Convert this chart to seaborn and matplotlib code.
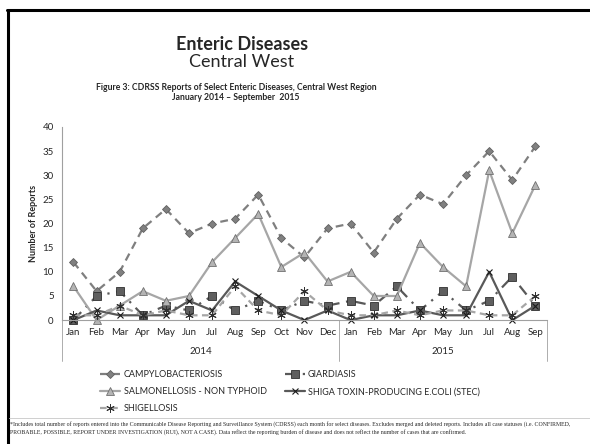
import matplotlib
matplotlib.use('Agg')
import matplotlib.pyplot as plt
import matplotlib.transforms as mtransforms
from matplotlib.lines import Line2D
import numpy as np
import seaborn as sns

## monthly CDRSS enteric disease reports, Central West, Jan 2014 - Sep 2015

months = ['Jan', 'Feb', 'Mar', 'Apr', 'May', 'Jun', 'Jul', 'Aug', 'Sep', 'Oct', 'Nov', 'Dec',
          'Jan', 'Feb', 'Mar', 'Apr', 'May', 'Jun', 'Jul', 'Aug', 'Sep']
years = ['2014', '2015']
year_months = [12, 9]

campylobacteriosis = [12, 6, 10, 19, 23, 18, 20, 21, 26, 17, 13, 19,
                      20, 14, 21, 26, 24, 30, 35, 29, 36]
giardiasis = [0, 5, 6, 1, 3, 2, 5, 2, 4, 2, 4, 3,
              4, 3, 7, 2, 6, 2, 4, 9, 3]
salmonellosis = [7, 0, 3, 6, 4, 5, 12, 17, 22, 11, 14, 8,
                 10, 5, 5, 16, 11, 7, 31, 18, 28]
stec = [0, 2, 1, 1, 1, 4, 2, 8, 5, 2, 0, 2,
        0, 1, 1, 2, 1, 1, 10, 0, 3]
shigellosis = [1, 1, 3, 1, 2, 1, 1, 7, 2, 1, 6, 2,
               1, 1, 2, 1, 2, 2, 1, 1, 5]

labels = ['CAMPYLOBACTERIOSIS', 'GIARDIASIS', 'SALMONELLOSIS - NON TYPHOID',
          'SHIGA TOXIN-PRODUCING E.COLI (STEC)', 'SHIGELLOSIS']

sns.set_style('white')
plt.rcParams['font.family'] = ['Lato', 'DejaVu Sans']

fig = plt.figure(figsize=(5.9, 4.44), dpi=100)
ax = fig.add_axes([0.105, 0.279, 0.822, 0.435])

X = np.arange(len(months))

styles = [
    (campylobacteriosis, dict(color='#7f7f7f', linestyle=(0, (3.5, 2.5)), marker='D', markersize=4,
                              markerfacecolor='#808080', markeredgecolor='#606060', markeredgewidth=0.6)),
    (giardiasis, dict(color='#595959', linestyle=(0, (5, 3, 1, 3)), marker='s', markersize=6,
                      markerfacecolor='#5f5f5f', markeredgecolor='#303030', markeredgewidth=0.6)),
    (salmonellosis, dict(color='#a6a6a6', linestyle='-', marker='^', markersize=6,
                         markerfacecolor='#b4b4b4', markeredgecolor='#707070', markeredgewidth=0.6)),
    (stec, dict(color='#595959', linestyle='-', marker='x', markersize=5,
                markerfacecolor='none', markeredgecolor='#1a1a1a', markeredgewidth=0.8)),
    (shigellosis, dict(color='#a6a6a6', linestyle=(0, (3, 2)), marker=(6, 2, 0), markersize=6,
                       markerfacecolor='none', markeredgecolor='#303030', markeredgewidth=0.7)),
]

handles = []
for (vals, kw), lab in zip(styles, labels):
    sns.lineplot(x=X, y=vals, ax=ax, linewidth=1.6, clip_on=False, **kw)
    handles.append(Line2D([], [], linewidth=1.6, label=lab, **kw))

ax.set_xlim(-0.5, len(months) - 0.5)
ax.set_ylim(0, 40)
ax.set_yticks(np.arange(0, 41, 5))
ax.set_xticks(X)
ax.set_xticklabels(months, fontsize=7)
ax.set_xticks(np.arange(-0.5, len(months), 1), minor=True)
ax.tick_params(axis='x', which='major', length=0, pad=6)
ax.tick_params(axis='x', which='minor', length=18, width=0.6, color='#a0a0a0', direction='out')
ax.tick_params(axis='y', which='major', length=3, width=0.6, color='#a0a0a0', direction='out',
               labelsize=7, pad=3)
ax.grid(False)
for s in ['top', 'right']:
    ax.spines[s].set_visible(False)
for s in ['left', 'bottom']:
    ax.spines[s].set_color('#a0a0a0')
    ax.spines[s].set_linewidth(0.8)
ax.set_xlabel('')
ax.set_ylabel('Number of Reports', fontsize=6.5, fontweight='bold', labelpad=3)

# year group separators and labels
trans = mtransforms.blended_transform_factory(ax.transData, ax.transAxes)
edges = np.concatenate([[0], np.cumsum(year_months)]) - 0.5
for e in edges:
    ax.plot([e, e], [0, -0.21], transform=trans, color='#a0a0a0', linewidth=0.6, clip_on=False)
for i, yr in enumerate(years):
    ax.text((edges[i] + edges[i + 1]) / 2, -0.16, yr, transform=trans,
            ha='center', va='center', fontsize=7)

# headings
fig.text(0.41, 1 - 44 / 444, 'Enteric Diseases', ha='center', va='center', fontsize=13, fontweight='bold')
fig.text(0.41, 1 - 62 / 444, 'Central West', ha='center', va='center', fontsize=13)
fig.text(0.40, 1 - 87 / 444, 'Figure 3: CDRSS Reports of Select Enteric Diseases, Central West Region',
         ha='center', va='center', fontsize=6.2, fontweight='bold')
fig.text(0.40, 1 - 98 / 444, 'January 2014 \u2013 September  2015',
         ha='center', va='center', fontsize=6.2, fontweight='bold')

order = [handles[0], handles[2], handles[4], handles[1], handles[3]]
fig.legend(handles=order, labels=[h.get_label() for h in order], ncol=2, frameon=False,
           loc='upper left', bbox_to_anchor=(92 / 590, 1 - 362 / 444), fontsize=6.5,
           handlelength=2.2, columnspacing=2.0, labelspacing=0.9, handletextpad=0.4)

# slide frame and footnote
fig.add_artist(Line2D([8 / 590, 8 / 590], [0, 1 - 10 / 444], color='black', linewidth=2.2,
                      transform=fig.transFigure))
fig.add_artist(Line2D([7 / 590, 1], [1 - 10 / 444, 1 - 10 / 444], color='black', linewidth=2.2,
                      transform=fig.transFigure))
fig.add_artist(Line2D([9 / 590, 1], [1 - 418 / 444, 1 - 418 / 444], color='#c8c8c8', linewidth=0.6,
                      transform=fig.transFigure))
note = ('*Includes total number of reports entered into the Communicable Disease Reporting and Surveillance '
        'System (CDRSS) each month for select diseases. Excludes merged and deleted reports. Includes all case '
        'statuses (i.e. CONFIRMED,\nPROBABLE, POSSIBLE, REPORT UNDER INVESTIGATION (RUI), NOT A CASE). Data '
        'reflect the reporting burden of disease and does not reflect the number of cases that are confirmed.')
fig.text(10 / 590, 1 - 421 / 444, note, ha='left', va='top', fontsize=4.2,
         family='Liberation Serif', linespacing=1.5)

fig.savefig('out.png', dpi=100)
